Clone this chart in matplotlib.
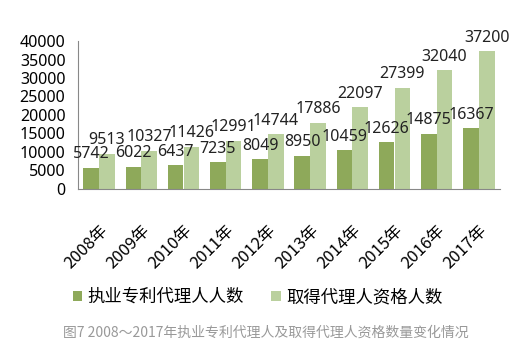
import numpy as np
import matplotlib
matplotlib.use("Agg")
import matplotlib.pyplot as plt

plt.rcParams['font.family'] = ['Noto Sans CJK SC', 'DejaVu Sans']

# Data
years = ['2008年', '2009年', '2010年', '2011年', '2012年',
         '2013年', '2014年', '2015年', '2016年', '2017年']
practicing = [5742, 6022, 6437, 7235, 8049, 8950, 10459, 12626, 14875, 16367]
qualified = [9513, 10327, 11426, 12991, 14744, 17886, 22097, 27399, 32040, 37200]
yticks = [0, 5000, 10000, 15000, 20000, 25000, 30000, 35000, 40000]

dark = '#8ea95a'
light = '#bad09e'
num_font = ['Noto Sans', 'DejaVu Sans']

fig = plt.figure(figsize=(5.31, 3.55), dpi=100)
ax = fig.add_axes([78 / 531, 1 - 189 / 355, 422 / 531, 148 / 355])

x = np.arange(len(years))
w = 0.37
b1 = ax.bar(x - w / 2, practicing, w, color=dark, label='执业专利代理人人数')
b2 = ax.bar(x + w / 2, qualified, w, color=light, label='取得代理人资格人数')

for bars, vals in [(b1, practicing), (b2, qualified)]:
    for rect, v in zip(bars, vals):
        ax.annotate(str(v), (rect.get_x() + rect.get_width() / 2, v),
                    xytext=(0, 4), textcoords='offset points',
                    ha='center', va='bottom', fontsize=11.5,
                    family=num_font, color='#222222')

ax.set_xlim(-0.5, len(years) - 0.5)
ax.set_ylim(0, 40000)
ax.set_yticks(yticks)
ax.set_yticklabels([str(t) for t in yticks], fontsize=11.5, family=num_font)
ax.set_xticks(x)
ax.set_xticklabels(years, rotation=45, ha='right', rotation_mode='anchor', fontsize=12)
ax.tick_params(length=0)
ax.tick_params(axis='y', pad=9)
ax.tick_params(axis='x', pad=24)

for s in ['top', 'right']:
    ax.spines[s].set_visible(False)
ax.spines['left'].set_color('#888888')
ax.spines['bottom'].set_color('#888888')

fig.legend(handles=[b1, b2], loc='center', bbox_to_anchor=(0.485, 1 - 297 / 355),
           ncol=2, frameon=False, fontsize=12.5, handlelength=0.55, handleheight=0.55,
           handletextpad=0.3, columnspacing=1.6)

fig.text(0.5, 1 - 333 / 355, '图7 2008～2017年执业专利代理人及取得代理人资格数量变化情况',
         ha='center', va='center', fontsize=10, color='#999999')

fig.savefig('out.png', dpi=100)
